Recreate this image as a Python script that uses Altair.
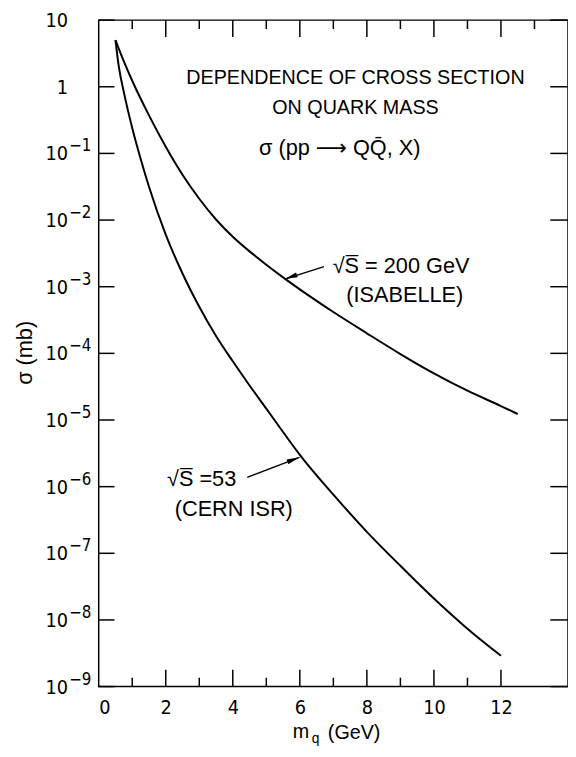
import altair as alt
import pandas as pd

# ---- curve data ----
mq_200 = [0.5, 0.75, 1.0, 1.5, 2.0, 2.5, 3.0, 3.5, 4.0, 4.5, 5.0, 5.5, 6.0, 7.0, 8.0, 9.0, 10.0, 11.0, 12.0, 12.5]
sig_200 = [5.01, 2.40, 1.23, 0.372, 0.126, 0.0479, 0.0209, 0.0102, 0.00562, 0.00339, 0.00214, 0.00138,
           0.000912, 0.000417, 0.000200, 0.0000977, 0.0000501, 0.0000275, 0.0000162, 0.0000123]

mq_53 = [0.5, 0.6, 0.75, 1.0, 1.25, 1.5, 2.0, 2.5, 3.0, 3.5, 4.0, 4.5, 5.0, 5.5, 6.0, 7.0, 8.0, 9.0, 10.0, 11.0, 12.0]
sig_53 = [5.01, 2.0, 0.83, 0.24, 0.083, 0.0316, 0.00603, 0.00158, 5.0e-4, 1.82e-4, 7.6e-5, 3.3e-5, 1.48e-5,
          6.6e-6, 3.0e-6, 7.6e-7, 2.1e-7, 6.5e-8, 2.1e-8, 7.4e-9, 2.9e-9]

# ---- axis ticks and labels ----
y_tick_values = [10, 1, 1e-1, 1e-2, 1e-3, 1e-4, 1e-5, 1e-6, 1e-7, 1e-8, 1e-9]
y_tick_base = ["10", "1", "10", "10", "10", "10", "10", "10", "10", "10", "10"]
y_tick_exp = ["", "", "\u22121", "\u22122", "\u22123", "\u22124", "\u22125", "\u22126", "\u22127", "\u22128", "\u22129"]
x_label_values = [0, 2, 4, 6, 8, 10, 12]
x_major_ticks = [2, 4, 6, 8, 10, 12]
x_minor_ticks_top = [1, 3, 5, 7, 9, 11, 13]
x_minor_ticks_bottom = [1, 3, 5, 7, 9, 11]

# ---- annotations ----
ann_text = ["DEPENDENCE OF CROSS SECTION", "ON QUARK MASS", "\u03c3 (pp \u27f6 QQ\u0304, X)",
            "\u221aS\u0305 = 200  GeV", "(ISABELLE)", "\u221aS\u0305 =53", "(CERN ISR)"]
ann_x = [7.66, 7.66, 7.19, 9.02, 9.13, 3.07, 4.03]
ann_y = [1.35, 0.471, 0.121, 2.06e-3, 7.4e-4, 1.29e-6, 4.68e-7]
ann_size = [20, 20, 22, 22, 22, 22, 22]

arrow_x1 = [6.72, 4.43]
arrow_y1 = [2.0e-3, 1.38e-6]
arrow_x2 = [5.55, 5.99]
arrow_y2 = [1.30e-3, 2.75e-6]
arrow_angle = [161, 339]

xtitle_text = ["m", "q", "(GeV)"]
xtitle_x = [6.03, 6.47, 7.62]
xtitle_size = [20, 14, 20]
xtitle_py = [728, 733, 729]

W, H = 476, 676
FONT = "Liberation Sans Narrow, DejaVu Sans Condensed, Liberation Sans, sans-serif"
TFONT = "Liberation Sans, DejaVu Sans, sans-serif"

xs = alt.Scale(domain=[0, 14], nice=False, zero=False)
ys = alt.Scale(type="log", domain=[1e-9, 10], nice=False)

curves = pd.DataFrame({
    "mq": mq_200 + mq_53,
    "sigma": sig_200 + sig_53,
    "energy": ["200"] * len(mq_200) + ["53"] * len(mq_53),
})

lines = alt.Chart(curves).mark_line(color="black", strokeWidth=2, interpolate="monotone").encode(
    x=alt.X("mq:Q", scale=xs, axis=alt.Axis(values=x_label_values, ticks=False, domain=False, grid=False,
                                            labelFontSize=20, labelFont=FONT, labelPadding=11,
                                            labelColor="black", title=None, format="d")),
    y=alt.Y("sigma:Q", scale=ys, axis=alt.Axis(labels=False, ticks=False, domain=False, grid=False,
                                               title="\u03c3 (mb)", titleFontSize=22, titleFont=TFONT,
                                               titleFontWeight="normal", titleX=-75, titleY=337,
                                               titleBaseline="middle", titleColor="black")),
    detail="energy:N",
)

ydf = pd.DataFrame({"v": y_tick_values, "base": y_tick_base, "exp": y_tick_exp})
ylab_base = alt.Chart(ydf).mark_text(align="right", baseline="middle", dx=-31, dy=1, fontSize=20, font=FONT,
                                     color="black").encode(
    x=alt.datum(0), y=alt.Y("v:Q", scale=ys), text="base:N")
ylab_exp = alt.Chart(ydf).mark_text(align="left", baseline="middle", dx=-30, dy=-7, fontSize=17, font=FONT,
                                    color="black").encode(
    x=alt.datum(0), y=alt.Y("v:Q", scale=ys), text="exp:N")

left_ticks = alt.Chart(ydf).mark_rule(color="black", strokeWidth=1.5).encode(
    y=alt.Y("v:Q", scale=ys), x=alt.value(0), x2=alt.value(16))
right_ticks = alt.Chart(ydf).mark_rule(color="black", strokeWidth=1.5).encode(
    y=alt.Y("v:Q", scale=ys), x=alt.value(W - 18), x2=alt.value(W))

tmaj = pd.DataFrame({"t": x_major_ticks})
tmin_top = pd.DataFrame({"t": x_minor_ticks_top})
tmin_bot = pd.DataFrame({"t": x_minor_ticks_bottom})
top_major = alt.Chart(tmaj).mark_rule(color="black", strokeWidth=1.5).encode(
    x=alt.X("t:Q", scale=xs), y=alt.value(0), y2=alt.value(17))
top_minor = alt.Chart(tmin_top).mark_rule(color="black", strokeWidth=1.5).encode(
    x=alt.X("t:Q", scale=xs), y=alt.value(0), y2=alt.value(9))
bot_major = alt.Chart(tmaj).mark_rule(color="black", strokeWidth=1.5).encode(
    x=alt.X("t:Q", scale=xs), y=alt.value(H), y2=alt.value(H - 17))
bot_minor = alt.Chart(tmin_bot).mark_rule(color="black", strokeWidth=1.5).encode(
    x=alt.X("t:Q", scale=xs), y=alt.value(H), y2=alt.value(H - 9))

ann = pd.DataFrame({"text": ann_text, "x": ann_x, "y": ann_y, "size": ann_size})
ann_marks = alt.Chart(ann).mark_text(align="center", baseline="middle", font=TFONT, color="black").encode(
    x=alt.X("x:Q", scale=xs), y=alt.Y("y:Q", scale=ys), text="text:N",
    size=alt.Size("size:Q", scale=None))

arr = pd.DataFrame({"x1": arrow_x1, "y1": arrow_y1, "x2": arrow_x2, "y2": arrow_y2, "ang": arrow_angle})
arrow_lines = alt.Chart(arr).mark_rule(color="black", strokeWidth=1.5).encode(
    x=alt.X("x1:Q", scale=xs), y=alt.Y("y1:Q", scale=ys), x2="x2:Q", y2="y2:Q")
arrow_heads = alt.Chart(arr).mark_point(shape="M0,0L-1,-0.2L-1,0.2Z", filled=True, color="black",
                                        size=676, opacity=1, strokeWidth=0).encode(
    x=alt.X("x2:Q", scale=xs), y=alt.Y("y2:Q", scale=ys), angle=alt.Angle("ang:Q", scale=None))

xt = pd.DataFrame({"text": xtitle_text, "x": xtitle_x, "size": xtitle_size, "py": xtitle_py})
xtitle = alt.Chart(xt).mark_text(align="center", baseline="alphabetic", font=TFONT, color="black").encode(
    x=alt.X("x:Q", scale=xs), y=alt.Y("py:Q", scale=None), text="text:N",
    size=alt.Size("size:Q", scale=None))

chart = alt.layer(
    lines, left_ticks, right_ticks, top_major, top_minor, bot_major, bot_minor,
    ylab_base, ylab_exp, ann_marks, arrow_lines, arrow_heads, xtitle,
).properties(
    width=W, height=H,
    padding={"left": 92, "top": 7, "right": 0, "bottom": 58},
    autosize=alt.AutoSizeParams(type="none"),
    background="white",
).configure_view(stroke="black", strokeWidth=1.5)

chart.save("out.html", embed_options={"renderer": "svg", "actions": False})
